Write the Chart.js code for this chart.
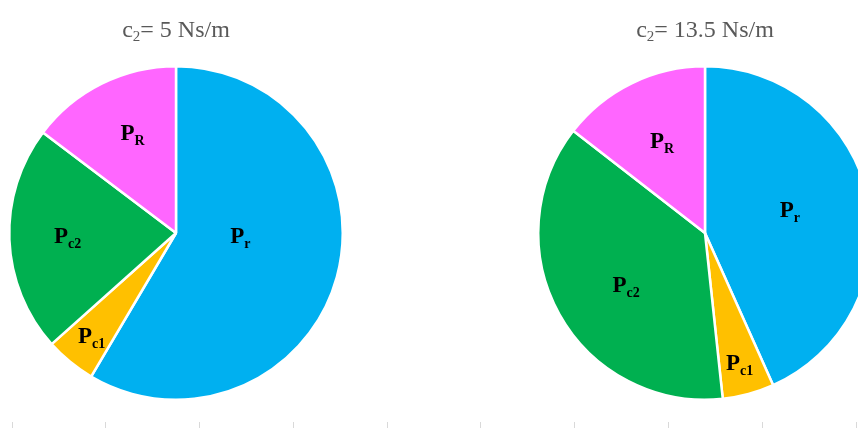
<!DOCTYPE html>
<html>
<head>
<meta charset="utf-8">
<script src="https://cdn.jsdelivr.net/npm/chart.js@4"></script>
<style>
  html, body { margin: 0; padding: 0; background: #fff; }
  body { width: 858px; height: 428px; overflow: hidden; position: relative; }
  .box { position: absolute; }
  #leftBox { left: 0; top: 0; width: 352px; height: 428px; }
  #rightBox { left: 529px; top: 0; width: 352px; height: 428px; }
  #axisBox { left: 0; top: 388px; width: 858px; height: 40px; }
</style>
</head>
<body>
<div class="box" id="leftBox"><canvas id="pieLow"></canvas></div>
<div class="box" id="rightBox"><canvas id="pieHigh"></canvas></div>
<div class="box" id="axisBox"><canvas id="axis"></canvas></div>
<script>
const powerNames = ["Pr", "Pc1", "Pc2", "PR"];
const powerSubs = ["r", "c1", "c2", "R"];
const sharesLow = [58.5, 4.9, 21.9, 14.7];   // c2 = 5 Ns/m
const sharesHigh = [43.3, 5.0, 37.2, 14.5];  // c2 = 13.5 Ns/m
const dampingLow = "5";
const dampingHigh = "13.5";
const axisSlots = ["", "", "", "", "", "", "", "", ""];

const sliceColors = ["#00B0F0", "#FFC000", "#00B050", "#FF66FF"];
const serif = "'Liberation Serif', 'Times New Roman', serif";

// base text + lowered subscript (+ optional tail), centred on x
function drawSubscripted(ctx, x, y, base, sub, tail, size, subSize, drop, weight) {
  const mainFont = weight + " " + size + "px " + serif;
  const subFont = weight + " " + subSize + "px " + serif;
  ctx.font = mainFont;
  const wBase = ctx.measureText(base).width;
  const wTail = tail ? ctx.measureText(tail).width : 0;
  ctx.font = subFont;
  const wSub = ctx.measureText(sub).width;
  const left = x - (wBase + wSub + wTail) / 2;
  ctx.textAlign = "left";
  ctx.textBaseline = "alphabetic";
  ctx.font = mainFont;
  ctx.fillText(base, left, y);
  ctx.font = subFont;
  ctx.fillText(sub, left + wBase, y + drop);
  if (tail) {
    ctx.font = mainFont;
    ctx.fillText(tail, left + wBase + wSub, y);
  }
}

const pieLabels = {
  id: "pieLabels",
  afterDraw(chart, args, opts) {
    const ctx = chart.ctx;
    const arc = chart.getDatasetMeta(0).data[0];
    const cx = arc.x, cy = arc.y, r = arc.outerRadius;
    ctx.save();
    ctx.fillStyle = "#595959";
    drawSubscripted(ctx, cx, 37, "c", "2", "= " + opts.damping + " Ns/m", 24, 15, 4, "normal");
    ctx.fillStyle = "#000";
    opts.spots.forEach((s, i) => {
      drawSubscripted(ctx, cx + s[0] * r, cy + s[1] * r, "P", powerSubs[i], "", 23, 14, 5, "bold");
    });
    ctx.restore();
  }
};

function makePie(id, shares, damping, spots) {
  return new Chart(document.getElementById(id), {
    type: "pie",
    data: {
      labels: powerNames,
      datasets: [{
        data: shares,
        backgroundColor: sliceColors,
        borderColor: "#fff",
        borderWidth: 2.5,
      }],
    },
    options: {
      responsive: true,
      maintainAspectRatio: false,
      animation: false,
      layout: { padding: { left: 8, right: 8, top: 65, bottom: 27 } },
      plugins: {
        legend: { display: false },
        tooltip: { enabled: false },
        pieLabels: { damping: damping, spots: spots },
      },
    },
    plugins: [pieLabels],
  });
}

makePie("pieLow", sharesLow, dampingLow,
  [[0.386, 0.06], [-0.506, 0.659], [-0.65, 0.06], [-0.26, -0.557]]);
makePie("pieHigh", sharesHigh, dampingHigh,
  [[0.509, -0.096], [0.207, 0.82], [-0.473, 0.353], [-0.257, -0.509]]);

// faint category ticks along the bottom edge
new Chart(document.getElementById("axis"), {
  type: "bar",
  data: { labels: axisSlots, datasets: [] },
  options: {
    responsive: true,
    maintainAspectRatio: false,
    animation: false,
    layout: { padding: { left: 12, right: 2 } },
    plugins: { legend: { display: false }, tooltip: { enabled: false } },
    scales: {
      x: {
        grid: { drawOnChartArea: false, tickLength: 6, color: "#d9d9d9" },
        border: { display: false },
        ticks: { display: false },
      },
      y: { display: false },
    },
  },
});
</script>
</body>
</html>
